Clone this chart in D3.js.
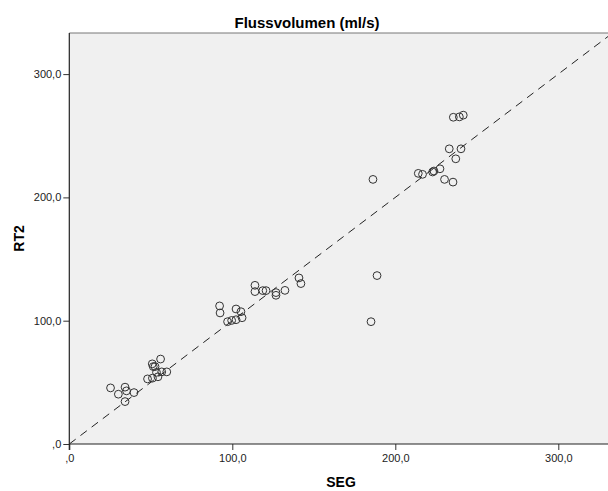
<!DOCTYPE html>
<html>
<head>
<meta charset="utf-8">
<script src="https://cdn.jsdelivr.net/npm/d3@7"></script>
<style>
  body { margin: 0; background: #fff; }
  svg { display: block; }
</style>
</head>
<body>
<div id="chart"></div>
<script>
// SEG (x) and RT2 (y)
const seg = [
  25.3, 30.1, 34.2, 35.1, 39.7, 34.2,
  56.0, 50.9, 51.5, 52.6, 53.5, 56.7, 59.8, 48.0, 51.0, 54.4,
  92.2, 92.5, 102.3, 105.3, 106.0, 102.3, 99.6, 97.1,
  113.9, 113.9, 118.7, 120.7, 126.8, 126.8, 132.3, 140.9, 142.1,
  186.3, 188.8, 185.1,
  235.6, 239.3, 241.7, 233.1, 240.3, 237.1, 227.4, 230.2, 235.4,
  214.1, 216.7, 222.9, 223.7
];
const rt2 = [
  45.5, 40.4, 46.1, 43.1, 41.7, 34.4,
  68.9, 65.0, 62.8, 62.8, 58.1, 58.5, 58.5, 52.8, 53.4, 54.5,
  112.0, 106.3, 109.5, 107.3, 102.4, 100.8, 100.2, 99.2,
  128.7, 123.6, 124.4, 124.4, 122.8, 120.6, 124.6, 134.7, 130.1,
  214.6, 136.6, 99.2,
  265.0, 265.3, 266.7, 239.4, 239.4, 231.3, 223.2, 214.6, 212.4,
  219.5, 218.7, 220.6, 221.4
];
const ticks = [0, 100, 200, 300];

const width = 608, height = 491;
const x0 = 69.3, y0 = 444, plotTop = 33;

const x = d3.scaleLinear().domain([0, 100]).range([x0, x0 + 163]);
const y = d3.scaleLinear().domain([0, 100]).range([y0, y0 - 123.3]);

const fmt = d => d === 0 ? ",0" : d3.format(".1f")(d).replace(".", ",");

const svg = d3.select("#chart").append("svg")
  .attr("width", width).attr("height", height)
  .style("font-family", "Arial, 'Liberation Sans', sans-serif");

// plot background
svg.append("rect")
  .attr("x", x0).attr("y", plotTop)
  .attr("width", width - x0 + 1).attr("height", y0 - plotTop)
  .attr("fill", "#f0f0f0");

svg.append("line")
  .attr("x1", x0).attr("x2", width)
  .attr("y1", plotTop).attr("y2", plotTop)
  .attr("stroke", "#777").attr("stroke-width", 1);

// clip for things inside the plot
svg.append("defs").append("clipPath").attr("id", "plotclip")
  .append("rect")
  .attr("x", x0).attr("y", plotTop)
  .attr("width", width - x0).attr("height", y0 - plotTop);

// reference line y = x
const maxV = x.invert(width + 10);
svg.append("line")
  .attr("clip-path", "url(#plotclip)")
  .attr("x1", x(0)).attr("y1", y(0))
  .attr("x2", x(maxV)).attr("y2", y(maxV))
  .attr("stroke", "#222")
  .attr("stroke-width", 1)
  .attr("stroke-dasharray", "8,6");

// points
svg.append("g")
  .selectAll("circle")
  .data(seg.map((d, i) => [d, rt2[i]]))
  .enter().append("circle")
  .attr("cx", d => x(d[0]))
  .attr("cy", d => y(d[1]))
  .attr("r", 3.9)
  .attr("fill", "none")
  .attr("stroke", "#333")
  .attr("stroke-width", 1);

// axes
const xAxis = svg.append("g")
  .attr("transform", `translate(0,${y0})`)
  .call(d3.axisBottom(x).tickValues(ticks).tickFormat(fmt).tickSize(6).tickPadding(4));
xAxis.select(".domain").remove();
xAxis.append("line")
  .attr("x1", x0).attr("x2", width)
  .attr("stroke", "#222").attr("stroke-width", 1.2);

const yAxis = svg.append("g")
  .attr("transform", `translate(${x0},0)`)
  .call(d3.axisLeft(y).tickValues(ticks).tickFormat(fmt).tickSize(6).tickPadding(2));
yAxis.select(".domain").remove();
yAxis.append("line")
  .attr("y1", plotTop).attr("y2", y0 + 6)
  .attr("stroke", "#222").attr("stroke-width", 1.2);

svg.selectAll(".tick line").attr("stroke", "#333");
svg.selectAll(".tick text")
  .style("font-size", "11px")
  .style("font-family", "Arial, 'Liberation Sans', sans-serif")
  .attr("fill", "#222");

// titles
svg.append("text")
  .attr("x", 307).attr("y", 28)
  .attr("text-anchor", "middle")
  .style("font-size", "15px").style("font-weight", "bold")
  .text("Flussvolumen (ml/s)");

svg.append("text")
  .attr("x", 341).attr("y", 487)
  .attr("text-anchor", "middle")
  .style("font-size", "14px").style("font-weight", "bold")
  .text("SEG");

svg.append("text")
  .attr("transform", `translate(24,${(plotTop + y0) / 2}) rotate(-90)`)
  .attr("text-anchor", "middle")
  .style("font-size", "14px").style("font-weight", "bold")
  .text("RT2");
</script>
</body>
</html>
